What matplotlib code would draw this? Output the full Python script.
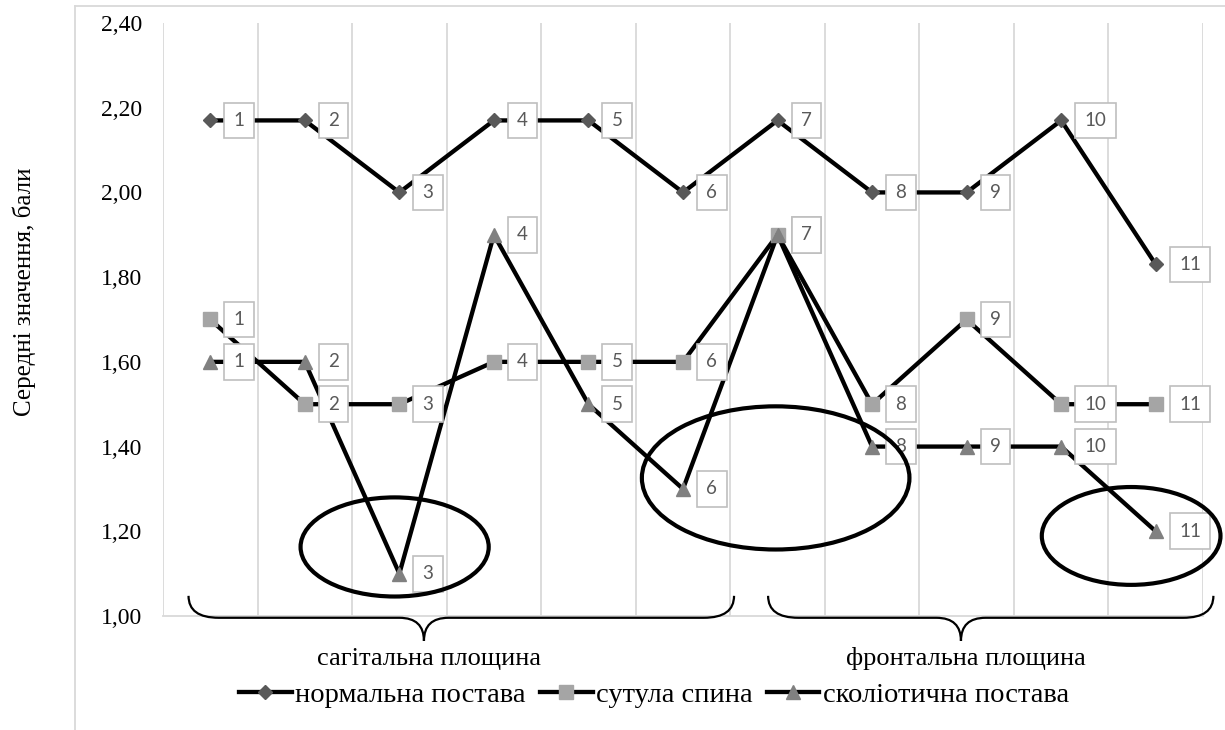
import numpy as np
import matplotlib
matplotlib.use('Agg')
import matplotlib.pyplot as plt
from matplotlib.patches import Ellipse, PathPatch
from matplotlib.path import Path
from matplotlib.lines import Line2D
import matplotlib.transforms as mtransforms

# Data
labels = [str(i) for i in range(1, 12)]
normal = [2.17, 2.17, 2.00, 2.17, 2.17, 2.00, 2.17, 2.00, 2.00, 2.17, 1.83]
stooped = [1.70, 1.50, 1.50, 1.60, 1.60, 1.60, 1.90, 1.50, 1.70, 1.50, 1.50]
scoliotic = [1.60, 1.60, 1.10, 1.90, 1.50, 1.30, 1.90, 1.40, 1.40, 1.40, 1.20]
series_names = ['нормальна постава', 'сутула спина', 'сколіотична постава']
y_ticks = [1.00, 1.20, 1.40, 1.60, 1.80, 2.00, 2.20, 2.40]

# groups: (title, start index, end index, tip index)
groups = [('сагітальна площина', -0.23, 5.54, 2.26),
          ('фронтальна площина', 5.90, 10.61, 7.94)]

# highlighted regions: (center x, center y, width, height)
ellipses = [(1.95, 1.163, 1.99, 0.234),
            (5.98, 1.326, 2.83, 0.338),
            (9.74, 1.189, 1.89, 0.231)]

serif = ['Liberation Serif', 'DejaVu Serif']
label_font = ['Lato', 'DejaVu Sans']

fig = plt.figure(figsize=(12.25, 7.3), dpi=100)
ax = fig.add_axes([163 / 1225, 114 / 730, 1040 / 1225, 593 / 730])

x = np.arange(len(labels))
styles = [(normal, 'D', 7.5, '#595959'),
          (stooped, 's', 10.5, '#a5a5a5'),
          (scoliotic, '^', 10.5, '#808080')]

handles = []
for (vals, mk, ms, col), name in zip(styles, series_names):
    ln, = ax.plot(x, vals, color='black', lw=3.1, marker=mk, ms=ms,
                  mfc=col, mec=col, label=name, zorder=3)
    handles.append(ln)
    for xi, v, lab in zip(x, vals, labels):
        ax.annotate(lab, (xi, v), xytext=(16.8, 0), textcoords='offset points',
                    ha='left', va='center', fontsize=13.5, family=label_font,
                    color='#595959', zorder=5,
                    bbox=dict(boxstyle='square,pad=0.5', fc='white',
                              ec='#bfbfbf', lw=1.2))

# axes styling
ax.set_xlim(-0.5, 10.5)
ax.set_ylim(1.0, 2.4)
ax.set_xticks([])
ax.set_xticks(np.arange(-0.5, 11, 1), minor=True)
ax.tick_params(axis='x', which='minor', length=0)
ax.grid(axis='x', which='minor', color='#d9d9d9', lw=1.3)
ax.set_yticks(y_ticks)
ax.set_yticklabels([f'{v:.2f}'.replace('.', ',') for v in y_ticks],
                   family=serif, fontsize=17)
ax.tick_params(axis='y', length=0, pad=15)
for s in ['top', 'right', 'left']:
    ax.spines[s].set_visible(False)
ax.spines['bottom'].set_color('#d9d9d9')
ax.spines['bottom'].set_linewidth(1.3)

# ellipses
for cx, cy, w, h in ellipses:
    ax.add_patch(Ellipse((cx, cy), w, h, fill=False, ec='black', lw=3,
                         zorder=6, clip_on=False))

# curly braces below the axis
trans = mtransforms.blended_transform_factory(ax.transData, ax.transAxes)
ye, yf, yt = 0.034, -0.003, -0.042
r, rt = 0.32, 0.26
for title, x0, x1, xt in groups:
    verts = [(x0, ye), (x0, yf), (x0 + r, yf),
             (xt - rt, yf),
             (xt, yf), (xt, yt),
             (xt, yf), (xt + rt, yf),
             (x1 - r, yf),
             (x1, yf), (x1, ye)]
    codes = [Path.MOVETO, Path.CURVE3, Path.CURVE3,
             Path.LINETO,
             Path.CURVE3, Path.CURVE3,
             Path.CURVE3, Path.CURVE3,
             Path.LINETO,
             Path.CURVE3, Path.CURVE3]
    ax.add_patch(PathPatch(Path(verts, codes), fill=False, ec='black',
                           lw=1.6, transform=trans, clip_on=False, zorder=4))
    ax.text(xt + 0.05, -0.072, title, transform=trans, ha='center', va='center',
            family=serif, fontsize=19)

# y axis title
fig.text(24 / 1225, 1 - 292 / 730, 'Середні значення, бали', rotation=90,
         ha='center', va='center', family=serif, fontsize=18)

# legend
fig.legend(handles=handles, loc='center', bbox_to_anchor=(654 / 1225, 1 - 695 / 730),
           ncol=3, frameon=False, prop=dict(family=serif, size=20.5),
           handlelength=1.85, handletextpad=0.12, columnspacing=0.5)

# outer chart frame
fig.add_artist(Line2D([75 / 1225, 1], [1 - 6 / 730, 1 - 6 / 730],
                      color='#d9d9d9', lw=1.3, transform=fig.transFigure))
fig.add_artist(Line2D([75 / 1225, 75 / 1225], [0, 1 - 6 / 730],
                      color='#d9d9d9', lw=1.3, transform=fig.transFigure))

fig.savefig('out.png', dpi=100)
